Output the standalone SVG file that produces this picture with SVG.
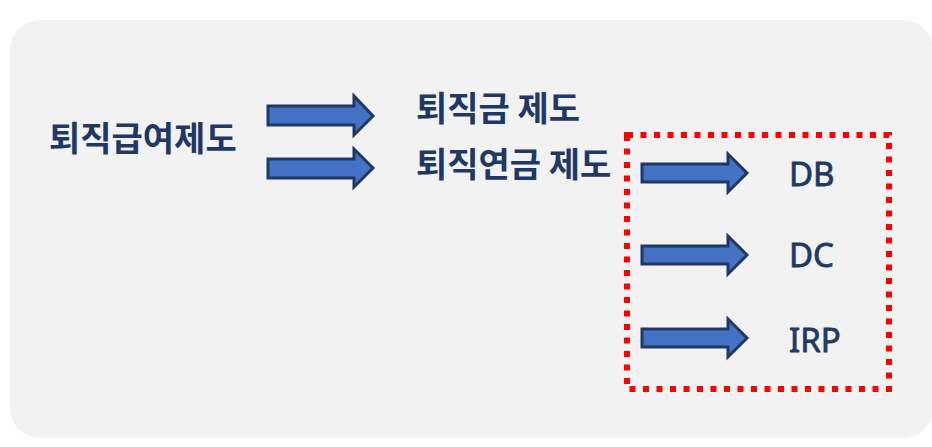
<svg xmlns="http://www.w3.org/2000/svg" width="932" height="447" viewBox="0 0 932 447">
<style>
.arrow{fill:#4472C4;stroke:#1F3864;stroke-width:3;stroke-linejoin:miter}
.t{font-family:"Noto Sans CJK KR","Noto Sans",sans-serif;font-weight:bold;font-size:34px;fill:#1F3864}
.l{font-family:"Noto Sans","Liberation Sans",sans-serif;font-size:33px;fill:#1F3864;stroke:#1F3864;stroke-width:0.8}
</style>
<rect x="0" y="0" width="932" height="447" fill="#FFFFFF"/>
<rect id="bg" x="10" y="20" width="923" height="418" rx="30" fill="#F2F2F2"/>
<g id="connectors">
<path class="arrow" d="M268,106 H354 V96 L373,116 L354,135 V125 H268 Z"/>
<path class="arrow" d="M268,159 H354 V149 L373,168 L354,187 V178 H268 Z"/>
<path class="arrow" d="M642,164 H728 V154 L747,173 L728,192 V182 H642 Z"/>
<path class="arrow" d="M642,246 H728 V236 L747,255 L728,274 V264 H642 Z"/>
<path class="arrow" d="M642,329 H728 V319 L747,338 L728,357 V347 H642 Z"/>
</g>
<g id="n1"><text class="t" x="49" y="151">퇴직급여제도</text></g>
<g id="n2"><text class="t" x="416" y="121">퇴직금 제도</text></g>
<g id="n3"><text class="t" x="416" y="177">퇴직연금 제도</text></g>
<g id="box"><rect x="627" y="135" width="262" height="254" fill="none" stroke="#FF0000" stroke-width="6" stroke-dasharray="6 7.5"/></g>
<g id="n4"><text class="l" x="789" y="186">DB</text></g>
<g id="n5"><text class="l" x="789" y="267">DC</text></g>
<g id="n6"><text class="l" x="789" y="352">IRP</text></g>
</svg>
